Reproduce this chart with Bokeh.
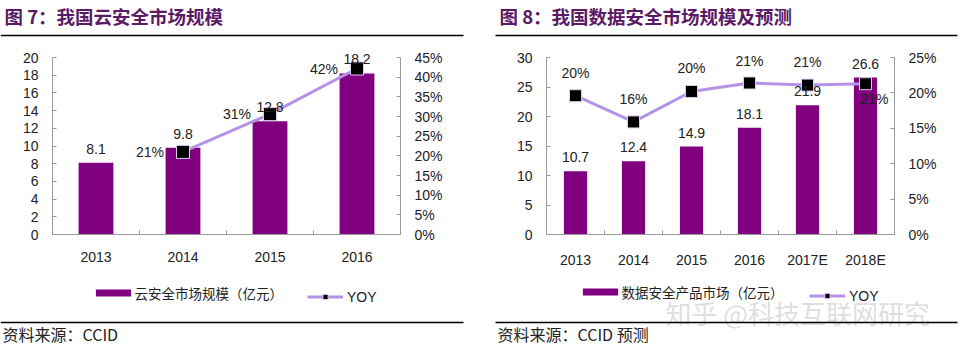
from bokeh.plotting import figure
from bokeh.layouts import row, column
from bokeh.models import (ColumnDataSource, FactorRange, Range1d, LinearAxis, CategoricalAxis,
                          FixedTicker, NumeralTickFormatter, Label, LabelSet, Legend, LegendItem,
                          BoxAnnotation)
from bokeh.core.properties import value
from bokeh.embed import file_html
from bokeh.resources import INLINE

# ---------------- data ----------------
years7 = ["2013", "2014", "2015", "2016"]
market7 = [8.1, 9.8, 12.8, 18.2]
yoy7_years = ["2014", "2015", "2016"]
yoy7 = [0.21, 0.306, 0.422]
left_ticks7 = [0, 2, 4, 6, 8, 10, 12, 14, 16, 18, 20]
right_ticks7 = [0, 0.05, 0.10, 0.15, 0.20, 0.25, 0.30, 0.35, 0.40, 0.45]

years8 = ["2013", "2014", "2015", "2016", "2017E", "2018E"]
market8 = [10.7, 12.4, 14.9, 18.1, 21.9, 26.6]
yoy8 = [0.196, 0.159, 0.202, 0.214, 0.211, 0.213]
left_ticks8 = [0, 5, 10, 15, 20, 25, 30]
right_ticks8 = [0, 0.05, 0.10, 0.15, 0.20, 0.25]

title7 = "图 7：我国云安全市场规模"
title8 = "图 8：我国数据安全市场规模及预测"
legend7 = "云安全市场规模（亿元）"
legend8 = "数据安全产品市场（亿元）"
yoy_name = "YOY"
source7 = "资料来源：CCID"
source8 = "资料来源：CCID 预测"
watermark = "知乎 @科技互联网研究"

# ---------------- style ----------------
BAR = "#800080"
LINE = "#B692E6"
MK_EDGE = "#dccbf4"
AXIS = "#9a9a9a"
TXT = "#222222"
TITLE = "#5a1a66"
CJK = "Noto Sans CJK SC"
LAT = "Liberation Sans"
W = 481
HEAD_H, CHART_H, FOOT_H = 40, 235, 78      # page rows: 0-40, 40-275, 275-353
FRAME_TOP, FRAME_BOTTOM = 45, 234          # page y of the plotting frame
AXIS_TOP = 57                              # page y where the value axes end


def style_axis(ax, standoff=14):
    ax.axis_line_color = AXIS
    ax.major_tick_line_color = AXIS
    ax.major_tick_in = 4
    ax.major_tick_out = 0
    ax.minor_tick_line_color = None
    ax.major_label_text_font = LAT
    ax.major_label_text_font_size = "14px"
    ax.major_label_text_color = TXT
    ax.major_label_standoff = standoff


def blank(height):
    f = figure(width=W, height=height, x_range=Range1d(0, 1), y_range=Range1d(0, 1),
               output_backend="svg", toolbar_location=None, x_axis_location=None,
               y_axis_location=None, min_border=0, outline_line_color=None)
    f.grid.visible = False
    return f


def rule(f, x0, x1, y):
    f.add_layout(BoxAnnotation(left=x0, right=x1, top=y + 0.7, bottom=y - 0.7,
                               left_units="screen", right_units="screen", top_units="screen",
                               bottom_units="screen", fill_color="black", fill_alpha=1,
                               line_color=None))


def header(title, x0, x1):
    f = blank(HEAD_H)
    f.add_layout(Label(x=x0 + 4, y=HEAD_H - 15, x_units="screen", y_units="screen", text=title,
                       text_font=CJK, text_font_style="bold", text_font_size="18.5px",
                       text_color=TITLE, text_baseline="middle"))
    rule(f, x0, x1, HEAD_H - 35)
    return f


def footer(leg_label, source, x0, x1, leg1_x, leg2_x, leg_y, wm=None):
    f = blank(FOOT_H)
    base = CHART_H + HEAD_H + FOOT_H   # page y of the footer bottom
    fy = lambda py: base - py
    # legend proxies: single glyphs kept outside the visible (0..1) range
    proxy = ColumnDataSource(dict(x=[-5], y=[-5]))
    dbar = f.vbar(x="x", top="y", width=0.4, source=proxy, fill_color=BAR, line_color=None)
    dln = f.line(x="x", y="y", source=proxy, line_color=LINE, line_width=3)
    dmk = f.scatter(x="x", y="y", source=proxy, marker="square", fill_color="black",
                    line_color=MK_EDGE)
    l1 = Legend(items=[LegendItem(label=leg_label, renderers=[dbar])],
                location=(leg1_x, fy(leg_y + 4.5)), glyph_width=44, glyph_height=9,
                label_height=9, label_standoff=0, padding=0, margin=0, spacing=0,
                border_line_color=None, background_fill_alpha=0,
                label_text_font=CJK, label_text_font_size="13.5px", label_text_color=TXT)
    l2 = Legend(items=[LegendItem(label=yoy_name, renderers=[dln, dmk])],
                location=(leg2_x, fy(leg_y + 6.5)), glyph_width=36, glyph_height=13,
                label_height=13, label_standoff=4, padding=0, margin=0, spacing=0,
                border_line_color=None, background_fill_alpha=0,
                label_text_font=LAT, label_text_font_size="14px", label_text_color=TXT)
    f.add_layout(l1, "center")
    f.add_layout(l2, "center")
    if wm:
        f.add_layout(Label(x=wm[0], y=fy(wm[1]), x_units="screen", y_units="screen", text=wm[2],
                           text_font=CJK, text_font_size="26px", text_color="#b5b5b5",
                           text_alpha=0.45, text_baseline="middle"))
    rule(f, x0, x1, fy(322))
    f.add_layout(Label(x=x0 + 2, y=fy(333), x_units="screen", y_units="screen", text=source,
                       text_font=CJK, text_font_size="16px", text_color=TXT,
                       text_baseline="middle"))
    return f


def chart(page_x0, frame_l, frame_r, cats, vals, ymax, lticks, ycats, yvals, rmax, rticks,
          marker_size, yoy_dx, yoy_dy, yoy_align):
    k = (FRAME_BOTTOM - FRAME_TOP) / (FRAME_BOTTOM - AXIS_TOP)
    p = figure(width=W, height=CHART_H, x_range=FactorRange(*cats),
               y_range=Range1d(0, ymax * k),
               output_backend="svg", toolbar_location=None, x_axis_location=None,
               y_axis_location="left",
               min_border_left=frame_l - page_x0, min_border_right=page_x0 + W - frame_r,
               min_border_top=FRAME_TOP - HEAD_H,
               min_border_bottom=HEAD_H + CHART_H - FRAME_BOTTOM,
               outline_line_color=None)
    p.grid.visible = False
    p.extra_y_ranges = {"yoy": Range1d(0, rmax * k)}
    # category boundaries: one factor per gap between neighbouring categories
    gaps = [f"{a}|{b}" for a, b in zip(cats[:-1], cats[1:])]
    p.extra_x_ranges = {"gaps": FactorRange(factors=gaps, range_padding=0.5,
                                            range_padding_units="absolute")}

    p.yaxis.ticker = FixedTicker(ticks=lticks)
    p.yaxis.bounds = (0, ymax)
    style_axis(p.yaxis[0])

    ra = LinearAxis(y_range_name="yoy", ticker=FixedTicker(ticks=rticks),
                    formatter=NumeralTickFormatter(format="0%"), bounds=(0, rmax))
    style_axis(ra)
    p.add_layout(ra, "right")

    bx = CategoricalAxis(x_range_name="gaps")
    style_axis(bx, 0)
    bx.major_label_text_font_size = "0px"
    bx.major_label_text_alpha = 0
    p.add_layout(bx, "below")

    cx = CategoricalAxis()
    style_axis(cx, 17)
    cx.axis_line_color = None
    cx.major_tick_line_color = None
    cx.major_tick_in = 0
    cx.major_tick_out = 0
    p.add_layout(cx, "below")

    bsrc = ColumnDataSource(dict(x=cats, top=vals, txt=[f"{v:.1f}" for v in vals]))
    p.vbar(x="x", top="top", width=0.4, source=bsrc, fill_color=BAR, line_color=None)
    p.add_layout(LabelSet(x="x", y="top", text="txt", source=bsrc, y_offset=14,
                          text_align="center", text_baseline="middle", text_font=value(LAT),
                          text_font_size=value("14px"), text_color=TXT))

    ysrc = ColumnDataSource(dict(x=ycats, y=yvals, txt=[f"{v * 100:.0f}%" for v in yvals],
                                 dx=yoy_dx, dy=yoy_dy))
    p.line(x="x", y="y", source=ysrc, y_range_name="yoy", line_color=LINE, line_width=3)
    p.scatter(x="x", y="y", source=ysrc, y_range_name="yoy", marker="square",
              size=marker_size, fill_color="black", line_color=MK_EDGE, line_width=1)
    p.add_layout(LabelSet(x="x", y="y", text="txt", source=ysrc, y_range_name="yoy",
                          x_offset="dx", y_offset="dy", text_align=yoy_align,
                          text_baseline="middle", text_font=value(LAT),
                          text_font_size=value("14px"), text_color=TXT))
    return p


h7 = header(title7, 0, 463)
h8 = header(title8, 14, 476)

p7 = chart(0, 52, 400, years7, market7, 20, left_ticks7, yoy7_years, yoy7, 0.45, right_ticks7,
           13, [-19, -19, -19], [0, 0, 0], "right")
p8 = chart(481, 546, 894, years8, market8, 30, left_ticks8, years8, yoy8, 0.25, right_ticks8,
           12, [0, 0, 0, 0, 0, 9], [23, 23, 23, 22, 23, -15], "center")

f7 = footer(legend7, source7, 0, 463, 90.6, 307, 298)
f8 = footer(legend8, source8, 14, 476, 577.6 - 481, 809 - 481, 297,
            wm=(665 - 481, 312, watermark))

layout = column(row(h7, h8), row(p7, p8), row(f7, f8))
open("out.html", "w").write(file_html(layout, INLINE))
